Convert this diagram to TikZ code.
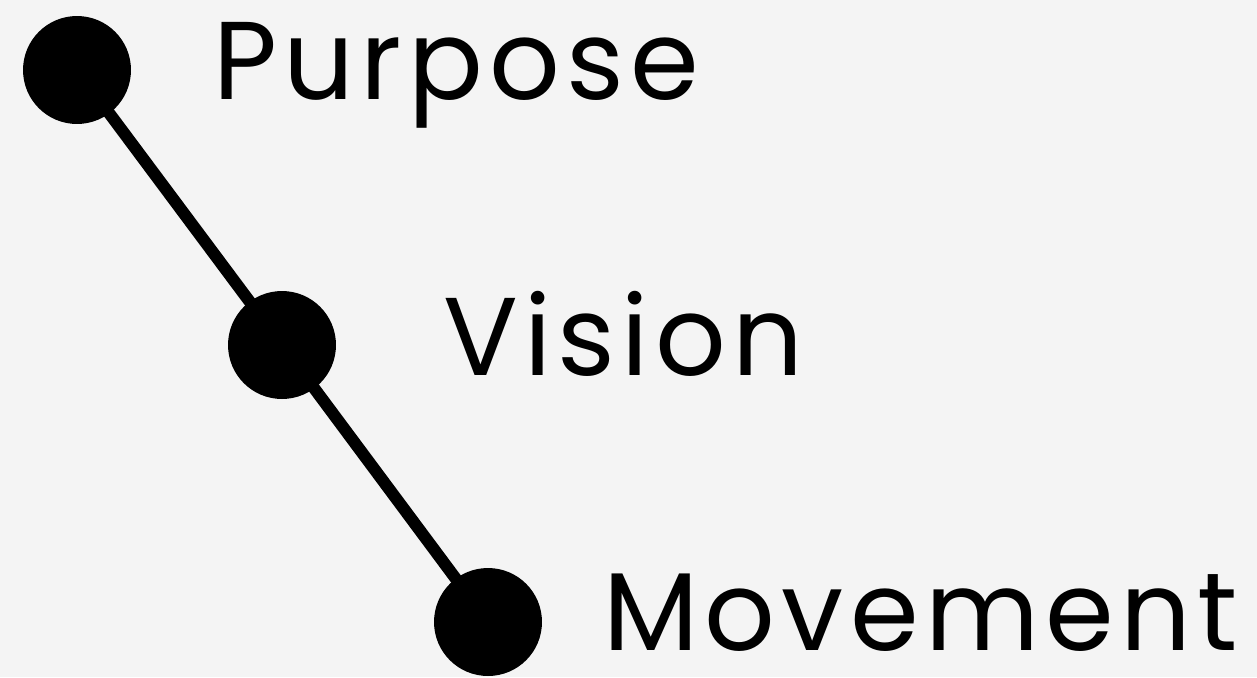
\documentclass[tikz,border=0pt]{standalone}
\usepackage{fontspec}
\setmainfont[LetterSpace=5.6]{Poppins}
\usepackage{tikz}
\usetikzlibrary{positioning}
\definecolor{paper}{RGB}{244,244,244}
\definecolor{ink}{RGB}{0,0,0}

\begin{document}
\begin{tikzpicture}[
  x=0.02cm, y=-0.02cm,
  dot/.style={circle, fill=ink, inner sep=0pt, minimum size=2.16cm},
  lbl/.style={anchor=base west, inner sep=0pt, text=ink,
              font=\fontsize{63}{70}\selectfont},
  link/.style={line width=0.24cm, draw=ink},
]
  % Background
  \fill[paper] (0,0) rectangle (1257,677);
  \useasboundingbox (0,0) rectangle (1257,677);

  % Steps
  \node[dot] (purpose) at (77,70) {};
  \node[dot] (vision) at (282,345) {};
  \node[dot] (movement) at (488,622) {};

  % Labels
  \node[lbl] (purposeLbl) at (213,99) {Purpose};
  \node[lbl] (visionLbl) at (443,375) {Vision};
  \node[lbl] (movementLbl) at (603,650) {Movement};

  % Connections
  \draw[link] (purpose.center) -- (vision.center);
  \draw[link] (vision.center) -- (movement.center);
\end{tikzpicture}
\end{document}
